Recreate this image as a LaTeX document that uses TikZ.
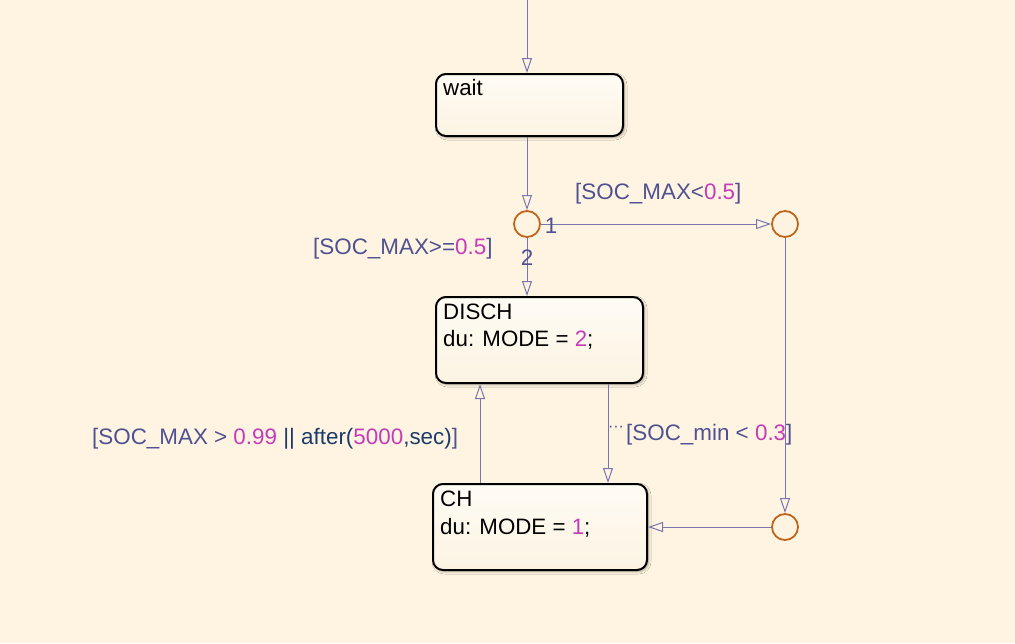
\documentclass[tikz,border=0pt]{standalone}
\usepackage{fontspec}
\setmainfont{Liberation Sans}
\usetikzlibrary{arrows.meta,shadows.blur,calc}
\definecolor{bg}{RGB}{255,244,225}
\definecolor{boxtop}{RGB}{255,252,245}
\definecolor{boxbot}{RGB}{252,243,226}
\definecolor{lincol}{RGB}{118,118,176}
\definecolor{labcol}{RGB}{78,82,146}
\definecolor{num}{RGB}{196,60,184}
\definecolor{navy}{RGB}{28,58,106}
\definecolor{juncol}{RGB}{192,102,28}
\begin{document}
\begin{tikzpicture}[x=1pt,y=-1pt,
  statebox/.style={draw=black, line width=2pt, rounded corners=10pt,
    top color=boxtop, bottom color=boxbot, inner sep=0pt, anchor=north west,
    blur shadow={shadow xshift=1.5pt, shadow yshift=-1.5pt, shadow blur steps=6, shadow blur radius=2.5pt, shadow opacity=35}},
  junc/.style={circle, draw=juncol, line width=1.8pt, minimum size=26pt, inner sep=0pt},
  stext/.style={anchor=base west, inner sep=0pt, text=black, font=\fontsize{22.3}{26}\selectfont},
  lab/.style={anchor=base west, inner sep=0pt, text=labcol, font=\fontsize{22.4}{26}\selectfont},
  arr/.style={draw=lincol, line width=1pt, -{Triangle[open, length=15pt, width=10pt]}}
]
\fill[bg] (0,0) rectangle (1015,643);
\useasboundingbox (0,0) rectangle (1015,643);

% states
\node[statebox, minimum width=187pt, minimum height=62pt] (wait) at (435,73) {};
\node[statebox, minimum width=207pt, minimum height=86pt] (disch) at (435,296) {};
\node[statebox, minimum width=214pt, minimum height=86pt] (ch) at (432,483) {};

\node[stext] (waitT) at (443,95) {wait};
\node[stext] (dischT1) at (443,319) {DISCH};
\node[stext] (dischT2) at (443,346) {du: MODE = \textcolor{num}{2};};
\node[stext] (chT1) at (440,506) {CH};
\node[stext] (chT2) at (440,534) {du: MODE = \textcolor{num}{1};};

% junctions
\node[junc] (j1) at (527,224) {};
\node[junc] (j2) at (785,224) {};
\node[junc] (j3) at (785,527) {};

% helper coordinates
\coordinate (start) at (527,0);
\coordinate (xa) at (608,0);
\coordinate (xb) at (480,0);

% connectors
\draw[arr] (start) -- (start |- wait.north);
\draw[arr] (wait.south -| j1) -- (j1.north);
\draw[arr] (j1.east) -- (j2.west);
\draw[arr] (j1.south) -- (j1 |- disch.north);
\draw[arr] (disch.south -| xa) -- (ch.north -| xa);
\draw[arr] (ch.north -| xb) -- (disch.south -| xb);
\draw[arr] (j2.south) -- (j3.north);
\draw[arr] (j3.west) -- (j3 -| ch.east);

% labels
\node[lab] (l1) at (575,199) {[SOC\_MAX<\textcolor{num}{0.5}]};
\node[lab] (l2) at (313,254) {[SOC\_MAX>=\textcolor{num}{0.5}]};
\node[lab, anchor=center] (n1) at (551,226) {1};
\node[lab, anchor=center] (n2) at (527,258) {2};
\node[lab] (l3) at (92,444) {[SOC\_MAX > \textcolor{num}{0.99} \textcolor{navy}{|| after(}\textcolor{num}{5000}\textcolor{navy}{,sec)}]};
\node[lab] (l4) at (626,440) {[SOC\_min < \textcolor{num}{0.3}]};
\node[text=labcol, inner sep=0pt, font=\fontsize{16}{18}\selectfont] (dots) at (616,429) {···};
\end{tikzpicture}
\end{document}
